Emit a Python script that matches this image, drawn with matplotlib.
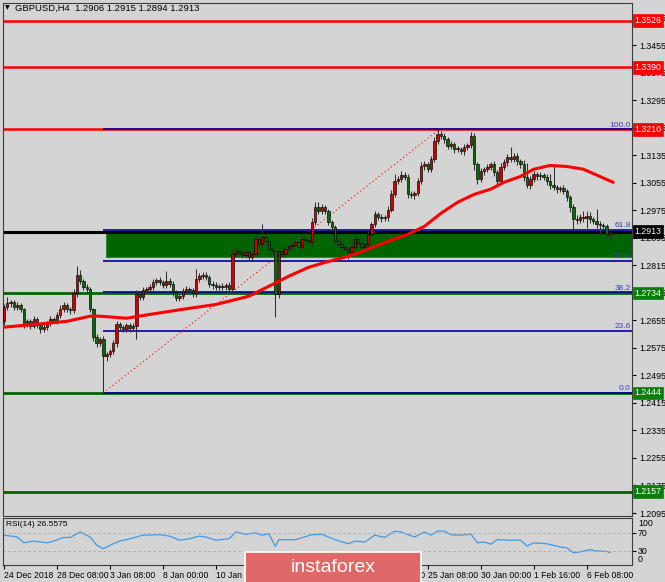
import numpy as np
import matplotlib.pyplot as plt
from matplotlib.patches import Rectangle

# ---------------------------------------------------------------
# Data
# ---------------------------------------------------------------
OPEN_FIRST = 1.2652
CLOSE = [
    1.2693, 1.2704, 1.2707, 1.2693, 1.2699, 1.2687, 1.2643, 1.2652, 1.2638, 1.2658,
    1.2640, 1.2629, 1.2635, 1.2646, 1.2658, 1.2652, 1.2670, 1.2687, 1.2699, 1.2687,
    1.2684, 1.2733, 1.2786, 1.2768, 1.2751, 1.2745, 1.2687, 1.2606, 1.2588, 1.2600,
    1.2550, 1.2556, 1.2565, 1.2588, 1.2643, 1.2635, 1.2629, 1.2640, 1.2632, 1.2638,
    1.2730, 1.2722, 1.2742, 1.2745, 1.2751, 1.2765, 1.2771, 1.2765, 1.2757, 1.2768,
    1.2760, 1.2736, 1.2719, 1.2725, 1.2739, 1.2745, 1.2742, 1.2733, 1.2774, 1.2783,
    1.2786, 1.2780, 1.2760, 1.2757, 1.2751, 1.2754, 1.2751, 1.2757, 1.2745, 1.2847,
    1.2856, 1.2850, 1.2844, 1.2853, 1.2838, 1.2847, 1.2890, 1.2876, 1.2896, 1.2885,
    1.2861, 1.2856, 1.2730, 1.2856, 1.2847, 1.2861, 1.2870, 1.2873, 1.2882, 1.2867,
    1.2890, 1.2887, 1.2882, 1.2940, 1.2983, 1.2972, 1.2983, 1.2972, 1.2940, 1.2925,
    1.2885, 1.2876, 1.2867, 1.2861, 1.2853, 1.2867, 1.2890, 1.2879, 1.2867, 1.2876,
    1.2905, 1.2934, 1.2963, 1.2954, 1.2951, 1.2954, 1.2977, 1.3021, 1.3059, 1.3065,
    1.3076, 1.3071, 1.3021, 1.3018, 1.3024, 1.3059, 1.3102, 1.3108, 1.3094, 1.3123,
    1.3175, 1.3195, 1.3190, 1.3181, 1.3161, 1.3166, 1.3152, 1.3152, 1.3146, 1.3158,
    1.3163, 1.3190, 1.3108, 1.3065, 1.3088, 1.3094, 1.3100, 1.3108, 1.3085, 1.3059,
    1.3100, 1.3114, 1.3129, 1.3123, 1.3132, 1.3117, 1.3108, 1.3071, 1.3047, 1.3065,
    1.3079, 1.3073, 1.3076, 1.3071, 1.3059, 1.3047, 1.3041, 1.3036, 1.3039, 1.3030,
    1.3012, 1.2983, 1.2948, 1.2946, 1.2954, 1.2951, 1.2957, 1.2948, 1.2943, 1.2934,
    1.2931, 1.2928, 1.2906, 1.2913,
]
# wick lengths in pips above / below the candle body
UP_WICK = [
    10, 20, 8, 6, 9, 7, 5, 8, 6, 9, 7, 5, 8, 6, 10, 7, 9, 12, 8, 6,
    7, 12, 26, 14, 8, 10, 6, 5, 8, 7, 9, 6, 8, 10, 9, 7, 6, 8, 7, 10,
    12, 8, 10, 7, 9, 11, 8, 10, 7, 29, 9, 8, 6, 7, 9, 10, 8, 6, 29, 9,
    8, 10, 7, 9, 8, 6, 9, 7, 8, 12, 10, 8, 9, 7, 6, 9, 12, 10, 38, 8,
    7, 8, 6, 9, 8, 10, 7, 9, 8, 6, 10, 8, 7, 12, 17, 15, 10, 8, 7, 6,
    8, 6, 9, 7, 8, 10, 9, 7, 8, 10, 9, 8, 10, 7, 9, 8, 10, 12, 20, 10,
    12, 10, 8, 9, 7, 10, 12, 9, 8, 10, 12, 17, 10, 8, 7, 9, 8, 10, 7, 9,
    8, 12, 10, 8, 9, 7, 10, 8, 9, 7, 12, 9, 10, 29, 8, 10, 7, 12, 40, 9,
    10, 8, 9, 7, 8, 20, 55, 8, 7, 9, 8, 7, 10, 12, 9, 18, 17, 12, 8, 35,
    9, 8, 7, 2,
]
DN_WICK = [
    12, 8, 10, 7, 9, 8, 10, 7, 9, 6, 8, 10, 7, 9, 8, 6, 8, 7, 9, 8,
    10, 8, 9, 7, 8, 9, 8, 10, 12, 8, 106, 12, 9, 8, 10, 7, 9, 8, 10, 7,
    38, 9, 7, 8, 6, 9, 8, 7, 9, 8, 7, 10, 8, 9, 7, 8, 6, 9, 10, 8,
    7, 9, 8, 10, 7, 8, 9, 7, 10, 12, 8, 9, 7, 8, 10, 9, 8, 10, 9, 8,
    9, 8, 64, 10, 8, 9, 7, 8, 9, 8, 7, 9, 8, 10, 8, 9, 7, 8, 9, 10,
    8, 9, 7, 8, 20, 9, 8, 10, 9, 8, 10, 8, 9, 7, 10, 8, 9, 8, 7, 9,
    8, 9, 12, 8, 10, 9, 8, 10, 9, 8, 7, 9, 8, 10, 9, 8, 12, 9, 8, 10,
    9, 8, 15, 14, 9, 10, 8, 9, 10, 12, 9, 8, 10, 9, 8, 10, 9, 12, 8, 9,
    8, 10, 9, 8, 10, 9, 8, 10, 9, 8, 10, 12, 29, 10, 9, 10, 29, 9, 8, 10,
    28, 9, 12, 12,
]

MA_BARS = [0, 9, 19, 26, 29, 37, 44, 54, 64, 74, 80, 86, 92, 98, 104, 110,
           112, 122, 127, 132, 137, 142, 147, 151, 156, 160, 165, 170, 175, 180, 184]
MA_VALS = [1.2635, 1.2643, 1.2652, 1.2667, 1.2667, 1.2661, 1.2672, 1.2687, 1.2701,
           1.2725, 1.2754, 1.2783, 1.2809, 1.2826, 1.2841, 1.2861, 1.2870, 1.2905,
           1.2928, 1.2966, 1.2998, 1.3021, 1.3036, 1.3056, 1.3073, 1.3094, 1.3105,
           1.3102, 1.3094, 1.3073, 1.3056]

RSI_BARS = [0, 4, 6, 9, 13, 15, 18, 20, 23, 26, 28, 30, 33, 35, 38, 42, 47, 50, 53,
            56, 59, 61, 64, 68, 70, 73, 76, 78, 80, 82, 83, 88, 93, 96, 100, 104,
            106, 109, 112, 115, 118, 120, 124, 127, 129, 131, 133, 135, 137, 140,
            141, 143, 145, 147, 149, 152, 156, 158, 160, 164, 168, 170, 172, 174,
            177, 179, 182, 183]
RSI_VALS = [65, 61, 48, 52, 48, 52, 60, 60, 72, 61, 43, 35, 46, 52, 57, 65, 66, 63,
            54, 57, 63, 61, 54, 57, 72, 67, 70, 65, 68, 40, 55, 55, 66, 67, 55, 46,
            52, 50, 65, 60, 74, 72, 61, 72, 65, 74, 74, 66, 65, 66, 68, 48, 50, 45,
            55, 54, 54, 41, 48, 46, 39, 37, 26, 28, 33, 30, 29, 26.6]
RSI_LAST = "26.5575"

RED_LEVELS = [1.3526, 1.3390, 1.3210]
BLACK_LEVEL = 1.2913
GREEN_LEVELS = [1.2734, 1.2444, 1.2157]
FIB_LOW, FIB_HIGH = 1.2444, 1.3210
FIB_RATIOS = [0.0, 23.6, 38.2, 50.0, 61.8, 100.0]
FIB_START, FIB_TOP_BAR = 30, 131.5
ZONE_LOW, ZONE_HIGH = 1.2838, 1.2914

DATE_BARS = [0, 16, 32, 48, 64, 80, 96, 112, 128, 144, 160, 176]
DATE_LABELS = ["24 Dec 2018", "28 Dec 08:00", "3 Jan 08:00", "8 Jan 00:00",
               "10 Jan 16:00", "15 Jan 08:00", "18 Jan 00:00", "22 Jan 16:00",
               "25 Jan 08:00", "30 Jan 00:00", "1 Feb 16:00", "6 Feb 08:00"]
HEADER = "GBPUSD,H4  1.2906 1.2915 1.2894 1.2913"

# ---------------------------------------------------------------
plt.rcParams['font.family'] = ['Liberation Sans', 'DejaVu Sans']
BG = "#D4D4D4"
W, H = 665, 582


def fx(px):
    return px / W


def fy(py):
    return 1 - py / H


fig = plt.figure(figsize=(W / 100, H / 100), dpi=100, facecolor=BG)
ax = fig.add_axes([fx(3), fy(516), fx(632) - fx(3), fy(3) - fy(516)], facecolor=BG)
rsi_ax = fig.add_axes([fx(3), fy(565), fx(632) - fx(3), fy(518) - fy(565)], facecolor=BG)

XLIM = (-0.3, 189.7)

# --- price panel ---
close = np.array(CLOSE)
open_ = np.r_[OPEN_FIRST, close[:-1]]
bars = np.arange(len(close))
top = np.maximum(open_, close)
bot = np.minimum(open_, close)
high = top + np.array(UP_WICK) / 1e4
low = bot - np.array(DN_WICK) / 1e4
body = np.maximum(top - bot, 0.0003)
up = close >= open_

ax.add_patch(Rectangle((30.8, ZONE_LOW), XLIM[1] - 30.8, ZONE_HIGH - ZONE_LOW,
                       facecolor="#006400", edgecolor="#2E8B2E", lw=0.8, zorder=1))

for lvl in RED_LEVELS:
    ax.axhline(lvl, color="#FF0000", lw=1.8, zorder=2)
for lvl in GREEN_LEVELS:
    ax.axhline(lvl, color="#006600", lw=2.0, zorder=2)
ax.axhline(BLACK_LEVEL, color="black", lw=2.2, zorder=2.2)

fib_prices = [FIB_LOW + r / 100 * (FIB_HIGH - FIB_LOW) for r in FIB_RATIOS]
ax.hlines(fib_prices, FIB_START, XLIM[1], color="#0000A0", lw=1.2, zorder=2.1)
for r, p in zip(FIB_RATIOS, fib_prices):
    ax.text(0.998, p + 0.0002, f"{r:.1f}", transform=ax.get_yaxis_transform(),
            ha="right", va="bottom", fontsize=6, color="#4040B0", zorder=6)
ax.plot([FIB_START, FIB_TOP_BAR], [FIB_LOW, FIB_HIGH], color="#FF0000",
        lw=0.8, linestyle=(0, (1, 2.5)), zorder=2.3)

ax.vlines(bars, low, high, color="#303030", lw=0.75, zorder=3)
ax.bar(bars[up], body[up], bottom=bot[up], width=0.72, color="#D00000",
       edgecolor="black", lw=0.45, zorder=4)
ax.bar(bars[~up], body[~up], bottom=bot[~up], width=0.72, color="#0A6A0A",
       edgecolor="black", lw=0.45, zorder=4)

ax.plot(MA_BARS, MA_VALS, color="#FF0000", lw=2.2, solid_capstyle="round", zorder=5)

ax.set_xlim(*XLIM)
ax.set_ylim(1.20863, 1.35771)
ax.yaxis.tick_right()
yt = 1.2095 + 0.008 * np.arange(19)
ax.set_yticks(yt)
ax.set_yticklabels([f"{v:.4f}" for v in yt])
ax.tick_params(axis="y", labelsize=6.3, length=3, pad=2, colors="black")
ax.set_xticks([])
for s in ax.spines.values():
    s.set_color("#3C3C3C")
    s.set_linewidth(0.8)

label_boxes = [(l, "#FF0000") for l in RED_LEVELS] + [(BLACK_LEVEL, "black")] + \
              [(l, "#0B7D0B") for l in GREEN_LEVELS]
for lvl, c in label_boxes:
    ax.text(1.004, lvl, f"{lvl:.4f}", transform=ax.get_yaxis_transform(),
            ha="left", va="center", fontsize=6.3, color="white", clip_on=False,
            bbox=dict(boxstyle="square,pad=0.2", fc=c, ec=c, lw=0.5), zorder=20)

# --- RSI panel ---
rsi_ax.plot(RSI_BARS, RSI_VALS, color="#3D9BE9", lw=0.9)
for lvl in (70, 30):
    rsi_ax.axhline(lvl, color="#A8A8A8", lw=0.6, linestyle=(0, (3, 3)))
rsi_ax.set_xlim(*XLIM)
rsi_ax.set_ylim(-1, 103)
rsi_ax.yaxis.tick_right()
rsi_ax.set_yticks([30, 70])
rsi_ax.set_yticklabels([])
rsi_ax.tick_params(axis="y", length=3)
rsi_ax.set_xticks(DATE_BARS)
rsi_ax.set_xticklabels(DATE_LABELS, ha="left")
rsi_ax.tick_params(axis="x", labelsize=6.2, length=3, pad=1.5)
for s in rsi_ax.spines.values():
    s.set_color("#3C3C3C")
    s.set_linewidth(0.8)
rsi_ax.text(0.005, 0.86, f"RSI(14) {RSI_LAST}", transform=rsi_ax.transAxes,
            fontsize=6, va="center", ha="left")
for val, py in ((100, 523), (70, 533), (30, 551), (0, 559)):
    fig.text(fx(638), fy(py), str(val), fontsize=6.3, va="center", ha="left")

# --- header ---
fig.text(fx(5), fy(8), "\u25BC", fontsize=4.5, va="center", ha="left",
         family="DejaVu Sans")
fig.text(fx(15), fy(8), HEADER, fontsize=6.8, va="center", ha="left")

# --- watermark logo ---
fig.add_artist(Rectangle((fx(245), fy(584)), fx(421) - fx(245), fy(552) - fy(584),
                         transform=fig.transFigure, facecolor="#E06868",
                         edgecolor="white", lw=1.2, zorder=30))
fig.text(fx(333), fy(567), "instaforex", fontsize=14, color="white",
         ha="center", va="center", zorder=31)

fig.savefig("out.png", dpi=100, facecolor=BG)
